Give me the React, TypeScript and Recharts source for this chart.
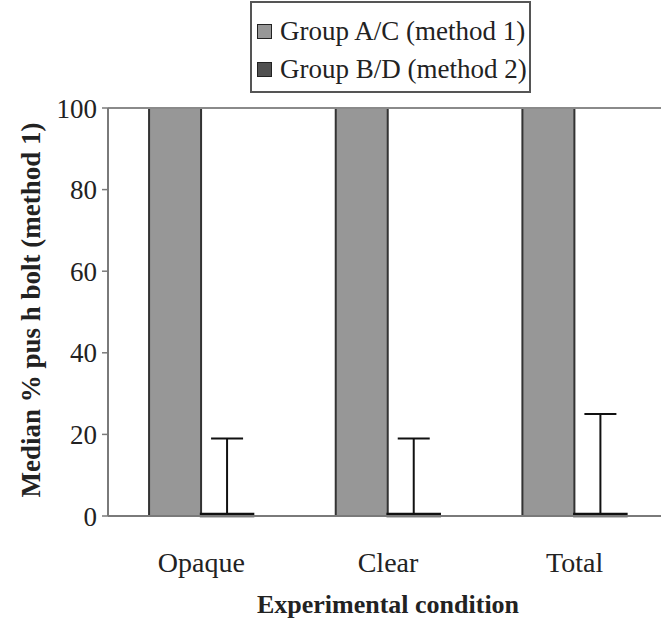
import React from 'react';
import { BarChart, Bar, XAxis, YAxis, ErrorBar, Legend, ReferenceLine, Label } from 'recharts';

const categories = ['Opaque', 'Clear', 'Total'];
const groupAC = [100, 100, 100];
const groupBD = [0.5, 0.5, 0.5];
const groupBDUpper = [19, 19, 25];
const yTicks = [0, 20, 40, 60, 80, 100];

const seriesNames = ['Group A/C (method 1)', 'Group B/D (method 2)'];
const seriesColors = ['#979797', '#505050'];

const data = categories.map((c, i) => ({
  name: c,
  ac: groupAC[i],
  bd: groupBD[i],
  bdErr: [0, groupBDUpper[i] - groupBD[i]],
}));

const FONT = '"Liberation Serif", "Times New Roman", serif';

const LegendBox = () => (
  <div
    style={{
      border: '2px solid #555',
      width: 281,
      height: 92,
      boxSizing: 'border-box',
      fontFamily: FONT,
      fontSize: 27,
      color: '#222',
      padding: '9px 0 0 5px',
      background: '#fff',
    }}
  >
    {seriesNames.map((n, i) => (
      <div key={n} style={{ display: 'flex', alignItems: 'center', height: 38, whiteSpace: 'nowrap' }}>
        <span
          style={{
            display: 'inline-block',
            width: 13,
            height: 13,
            background: seriesColors[i],
            border: '1.5px solid #222',
            marginRight: 8,
          }}
        />
        {n}
      </div>
    ))}
  </div>
);

export default function App() {
  return (
    <div style={{ position: 'absolute', left: 0, top: 0, width: 661, height: 620, overflow: 'hidden', background: '#fff' }}>
      <BarChart
        width={680}
        height={620}
        data={data}
        margin={{ top: 108, right: 12, bottom: 0, left: 0 }}
        barCategoryGap="22%"
        barGap={0}
      >
        <XAxis
          dataKey="name"
          height={104}
          axisLine={{ stroke: '#7a7a7a', strokeWidth: 2 }}
          tickLine={false}
          tickMargin={30}
          tick={{ fill: '#222', fontSize: 28, fontFamily: FONT }}
        >
          <Label
            content={(props: any) => {
              const vb = props.viewBox || {};
              return (
                <text
                  x={vb.x + vb.width / 2}
                  y={vb.y + 97}
                  textAnchor="middle"
                  fontFamily={FONT}
                  fontWeight="bold"
                  fontSize={26}
                  fill="#222"
                >
                  Experimental condition
                </text>
              );
            }}
          />
        </XAxis>
        <YAxis
          width={108}
          domain={[0, 100]}
          ticks={yTicks}
          interval={0}
          axisLine={{ stroke: '#7a7a7a', strokeWidth: 2 }}
          tickLine={{ stroke: '#7a7a7a', strokeWidth: 1.5 }}
          tickSize={6}
          tickMargin={5}
          tick={{ fill: '#222', fontSize: 27, fontFamily: FONT }}
        >
          <Label
            content={(props: any) => {
              const vb = props.viewBox || {};
              const x = vb.x + 31;
              const y = vb.y + vb.height / 2 - 2;
              return (
                <text
                  x={x}
                  y={y}
                  transform={`rotate(-90 ${x} ${y})`}
                  textAnchor="middle"
                  dominantBaseline="central"
                  fontFamily={FONT}
                  fontWeight="bold"
                  fontSize={27}
                  fill="#222"
                >
                  Median % pus h bolt (method 1)
                </text>
              );
            }}
          />
        </YAxis>
        <ReferenceLine y={100} stroke="#8a8a8a" strokeWidth={2} />
        <Legend
          layout="vertical"
          verticalAlign="middle"
          align="center"
          content={() => <LegendBox />}
          wrapperStyle={{ position: 'absolute', left: 250, top: 1, width: 281, height: 92 }}
        />
        <Bar dataKey="ac" name={seriesNames[0]} fill={seriesColors[0]} stroke="#333" strokeWidth={2} isAnimationActive={false} />
        <Bar dataKey="bd" name={seriesNames[1]} fill={seriesColors[1]} stroke="#111" strokeWidth={2.5} isAnimationActive={false} minPointSize={1}>
          <ErrorBar dataKey="bdErr" width={16} stroke="#111" strokeWidth={2} direction="y" />
        </Bar>
      </BarChart>
    </div>
  );
}
